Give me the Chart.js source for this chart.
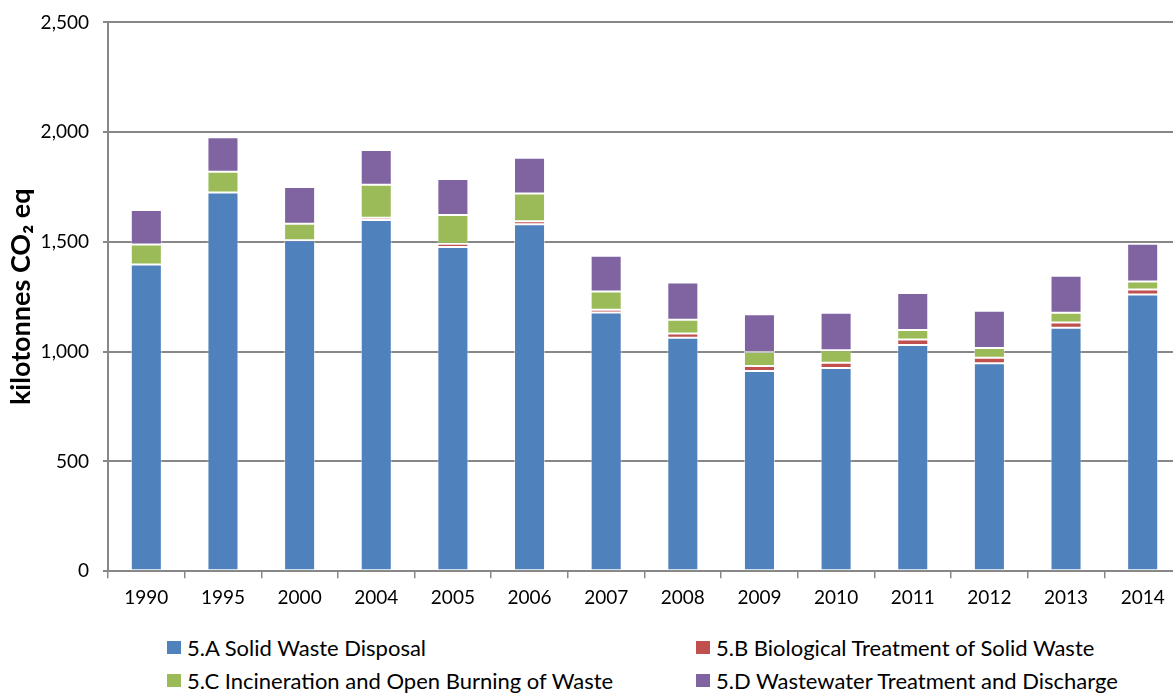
<!DOCTYPE html>
<html>
<head>
<meta charset="utf-8">
<script src="https://cdn.jsdelivr.net/npm/chart.js@4"></script>
<style>
  html, body { margin: 0; padding: 0; background: #fff; overflow: hidden; }
  #wrap { position: relative; width: 1190px; height: 693px; }
  #box { position: absolute; left: 0; top: -3px; width: 1190px; height: 621px; }
  #legend { position: absolute; left: 167px; top: 636px; display: grid;
    grid-template-columns: 529px 480px; row-gap: 11px;
    font-family: Lato, "Open Sans", sans-serif; font-size: 22px; color: #000; }
  .item { display: flex; align-items: center; height: 22px; white-space: nowrap; }
  .sw { width: 14px; height: 13px; margin-right: 6px; }
</style>
</head>
<body>
<div id="wrap">
  <div id="box"><canvas id="chart"></canvas></div>
  <div id="legend"></div>
</div>
<script>
const years = ["1990", "1995", "2000", "2004", "2005", "2006", "2007", "2008", "2009", "2010", "2011", "2012", "2013", "2014"];
const solidWaste = [1397, 1725, 1508, 1600, 1477, 1580, 1178, 1064, 912, 926, 1030, 947, 1109, 1260];
const biological = [0, 0, 0, 10, 15, 14, 13, 19, 23, 24, 25, 25, 24, 23];
const incineration = [91, 95, 75, 150, 131, 127, 83, 62, 64, 57, 44, 45, 44, 37];
const wastewater = [157, 157, 167, 159, 164, 162, 163, 170, 172, 170, 168, 169, 169, 172];
const seriesNames = [
  "5.A Solid Waste Disposal",
  "5.B Biological Treatment of Solid Waste",
  "5.C Incineration and Open Burning of Waste",
  "5.D Wastewater Treatment and Discharge"
];
const seriesColors = ["#4F81BD", "#C0504D", "#9BBB59", "#8064A2"];
const yTicks = [0, 500, 1000, 1500, 2000, 2500];

const fontFamily = "Lato, 'Open Sans', sans-serif";
const gridColor = "#878787";

const datasets = [solidWaste, biological, incineration, wastewater].map((values, i) => ({
  label: seriesNames[i],
  data: values,
  backgroundColor: seriesColors[i],
  borderColor: "rgba(255,255,255,0.5)",
  borderWidth: 1,
  borderSkipped: false,
  categoryPercentage: 1,
  barPercentage: 0.405,
}));

const legend = document.getElementById("legend");
// two columns: A, B on first row; C, D on second
seriesNames.forEach((name, i) => {
  legend.innerHTML += `<div class="item"><span class="sw" style="background:${seriesColors[i]}"></span>${name}</div>`;
});

new Chart(document.getElementById("chart"), {
  type: "bar",
  data: { labels: years, datasets },
  options: {
    responsive: true,
    maintainAspectRatio: false,
    animation: false,
    layout: { padding: { top: 8, left: 2, right: 9, bottom: 1 } },
    plugins: { legend: { display: false }, tooltip: { enabled: false } },
    scales: {
      x: {
        stacked: true,
        grid: { offset: true, drawOnChartArea: false, drawTicks: true, tickLength: 7, color: gridColor, lineWidth: 1.5 },
        border: { color: gridColor, width: 2 },
        ticks: { color: "#000", font: { family: fontFamily, size: 19 }, padding: 8, maxRotation: 0 },
      },
      y: {
        stacked: true,
        min: 0,
        max: 2500,
        afterBuildTicks: (axis) => { axis.ticks = yTicks.map((v) => ({ value: v })); },
        afterFit: (axis) => { axis.width = 106; },
        grid: { color: gridColor, lineWidth: 2, tickLength: 5 },
        border: { color: gridColor, width: 2 },
        ticks: {
          color: "#000",
          font: { family: fontFamily, size: 19 },
          padding: 14,
          callback: (v) => v.toLocaleString("en-US"),
        },
        title: {
          display: true,
          text: "kilotonnes CO₂ eq",
          color: "#000",
          font: { family: fontFamily, size: 27, weight: "bold" },
          padding: { top: 3, bottom: 1 },
        },
      },
    },
  },
});
</script>
</body>
</html>
